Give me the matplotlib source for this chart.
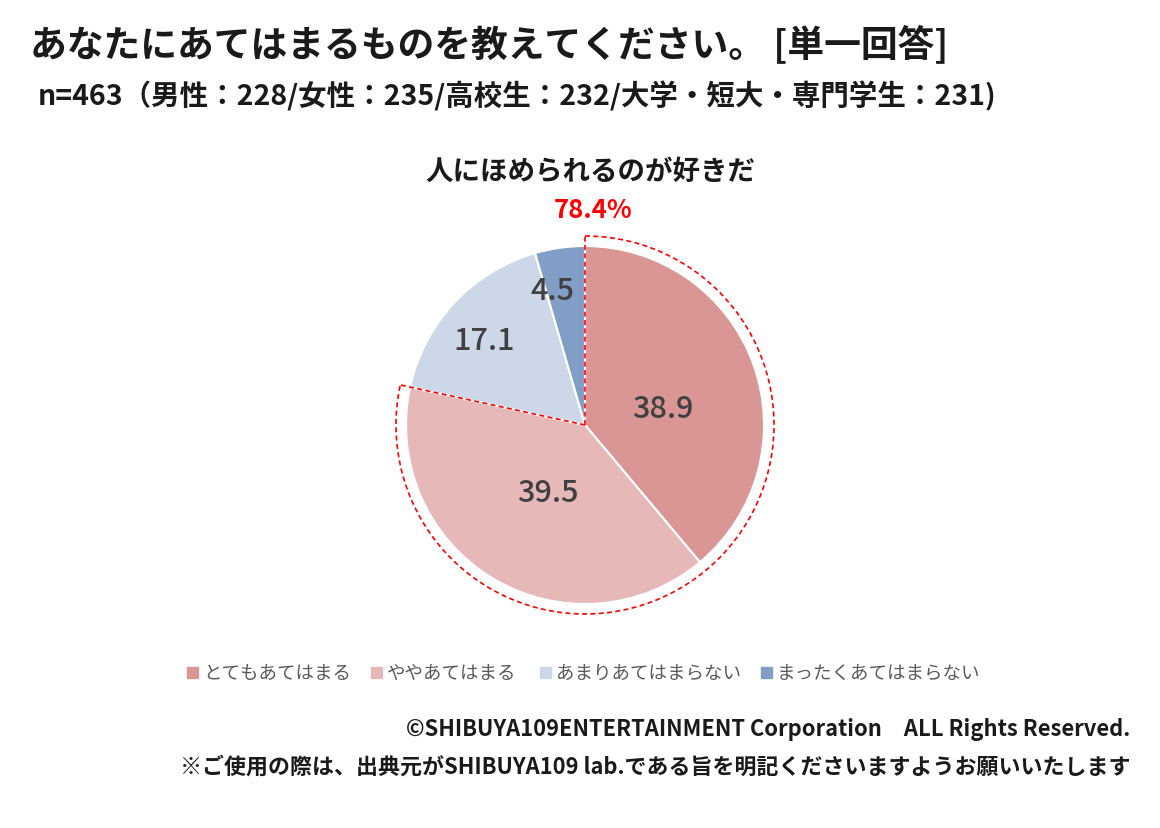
import matplotlib
matplotlib.use("Agg")
import matplotlib.pyplot as plt
import numpy as np

plt.rcParams["font.family"] = "Noto Sans CJK JP"

categories = ["とてもあてはまる", "ややあてはまる", "あまりあてはまらない", "まったくあてはまらない"]
values = [38.9, 39.5, 17.1, 4.5]
colors = ["#D99694", "#E6B9B8", "#CCD8E8", "#819FC6"]
top2 = 78.4

W, H = 1160, 829
fig = plt.figure(figsize=(W / 100, H / 100), dpi=100)
ax = fig.add_axes([0, 0, 1, 1])
ax.set_xlim(0, W)
ax.set_ylim(0, H)
ax.axis("off")

cx, cy, r = 585, H - 426, 179
wedges, _, autotexts = ax.pie(values, colors=colors, startangle=90, counterclock=False,
                              center=(cx, cy), radius=r, autopct="%.1f", pctdistance=0.52,
                              wedgeprops=dict(edgecolor="white", linewidth=1.5),
                              textprops=dict(fontsize=22, color="#404040", fontweight="medium"))
# label positions tuned to the reference
for t, (dx, dy) in zip(autotexts, [(78, 16), (-37, -68), (-101, 84), (-33, 134)]):
    t.set_position((cx + dx, cy + dy))
ax.set_xlim(0, W)
ax.set_ylim(0, H)
ax.set_aspect("equal")

# dashed outline around top-2 share
end = 90 - 360 * top2 / 100
t = np.linspace(np.radians(90), np.radians(end), 200)
R = r + 10
ax.plot(cx + R * np.cos(t), cy + R * np.sin(t), ls="--", color="red", lw=1.2, dashes=(3, 2))
ax.plot([cx, cx], [cy, cy + R], ls="--", color="red", lw=1.2, dashes=(3, 2))
ax.plot([cx, cx + R * np.cos(np.radians(end))], [cy, cy + R * np.sin(np.radians(end))],
        ls="--", color="red", lw=1.2, dashes=(3, 2))

ax.text(30, H - 45, "あなたにあてはまるものを教えてください。 [単一回答]", fontsize=26.5,
        fontweight="bold", va="center", color="#1a1a1a")
ax.text(38, H - 96, "n=463（男性：228/女性：235/高校生：232/大学・短大・専門学生：231)", fontsize=20.5,
        fontweight="bold", va="center", color="#1a1a1a")
ax.text(590, H - 172, "人にほめられるのが好きだ", fontsize=19.8, fontweight="bold",
        ha="center", va="center", color="#1a1a1a")
ax.text(593, H - 211, f"{top2}%", fontsize=18.5, fontweight="bold", ha="center", va="center", color="red")

# legend
lx = [187, 371, 540, 761]
for x, c, lab in zip(lx, colors, categories):
    ax.add_patch(plt.Rectangle((x, H - 679), 11, 11, color=c))
    ax.text(x + 16, H - 674, lab, fontsize=13.3, va="center", color="#595959")

ax.text(1130, H - 730, "©SHIBUYA109ENTERTAINMENT Corporation　ALL Rights Reserved.", fontsize=15.8,
        fontweight="bold", ha="right", va="center", color="#1a1a1a")
ax.text(1130, H - 767, "※ご使用の際は、出典元がSHIBUYA109 lab.である旨を明記くださいますようお願いいたします",
        fontsize=15.8, fontweight="bold", ha="right", va="center", color="#1a1a1a")

fig.savefig("out.png", dpi=100, facecolor="white")
